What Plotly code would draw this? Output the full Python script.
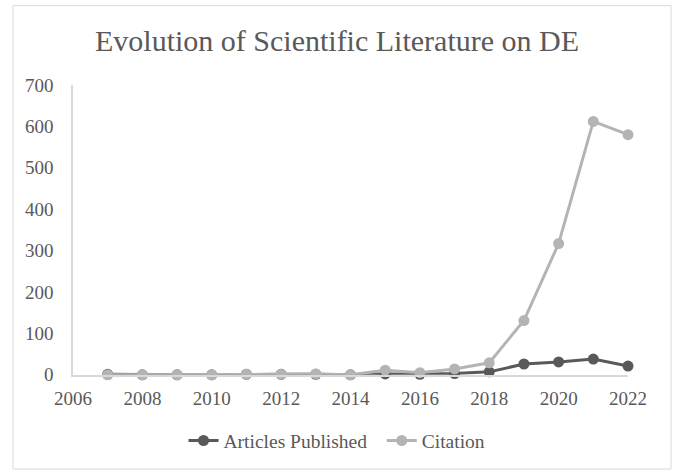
import plotly.graph_objects as go

years = [2007, 2008, 2009, 2010, 2011, 2012, 2013, 2014, 2015, 2016, 2017, 2018, 2019, 2020, 2021, 2022]
articles = [1, 0, 0, 0, 1, 1, 1, 0, 2, 1, 3, 7, 26, 31, 38, 21]
citation = [0, 0, 0, 0, 1, 1, 2, 0, 11, 5, 14, 29, 131, 317, 612, 580]

FONT = "Liberation Serif"
TXT = "#595959"

fig = go.Figure()
fig.add_trace(go.Scatter(x=years, y=articles, name="Articles Published\u00a0\u00a0", mode="lines+markers",
                         cliponaxis=False,
                         line=dict(color="#595959", width=3), marker=dict(size=11, color="#595959")))
fig.add_trace(go.Scatter(x=years, y=citation, name="Citation", mode="lines+markers",
                         cliponaxis=False,
                         line=dict(color="#b4b4b4", width=3), marker=dict(size=11, color="#b4b4b4")))

fig.update_layout(
    width=674, height=474,
    margin=dict(l=73, r=46, t=85, b=97),
    paper_bgcolor="white", plot_bgcolor="white",
    font=dict(family=FONT, color=TXT, size=19),
    title=dict(text="Evolution of Scientific Literature on DE", x=0.5, xref="container",
               xanchor="center", y=0.915, yref="container", yanchor="middle",
               font=dict(family=FONT, size=30, color=TXT)),
    showlegend=True,
    legend=dict(orientation="h", x=0.5, xref="container", xanchor="center",
                y=0.07, yref="container", yanchor="middle",
                font=dict(family=FONT, size=19.5, color=TXT), traceorder="normal"),
    xaxis=dict(range=[2006, 2022], dtick=2, tick0=2006, showgrid=False, zeroline=False,
               showline=True, linecolor="#d9d9d9", linewidth=1.5, ticks="",
               ticklabelstandoff=6, tickfont=dict(family=FONT, size=19, color=TXT)),
    yaxis=dict(range=[0, 700], dtick=100, showgrid=False, zeroline=False,
               showline=True, linecolor="#d9d9d9", linewidth=1.5, ticks="",
               ticklabelstandoff=14, tickfont=dict(family=FONT, size=19, color=TXT)),
)
fig.add_shape(type="rect", xref="paper", yref="paper",
              x0=(13 - 73) / 555, x1=(671 - 73) / 555,
              y0=(377 - 472) / 292, y1=(377 - 5) / 292,
              line=dict(color="#d9d9d9", width=1), layer="below")
fig.write_html("out.html", config={"displayModeBar": False},
               post_script="document.body.style.margin='0';document.body.style.overflow='hidden';")
